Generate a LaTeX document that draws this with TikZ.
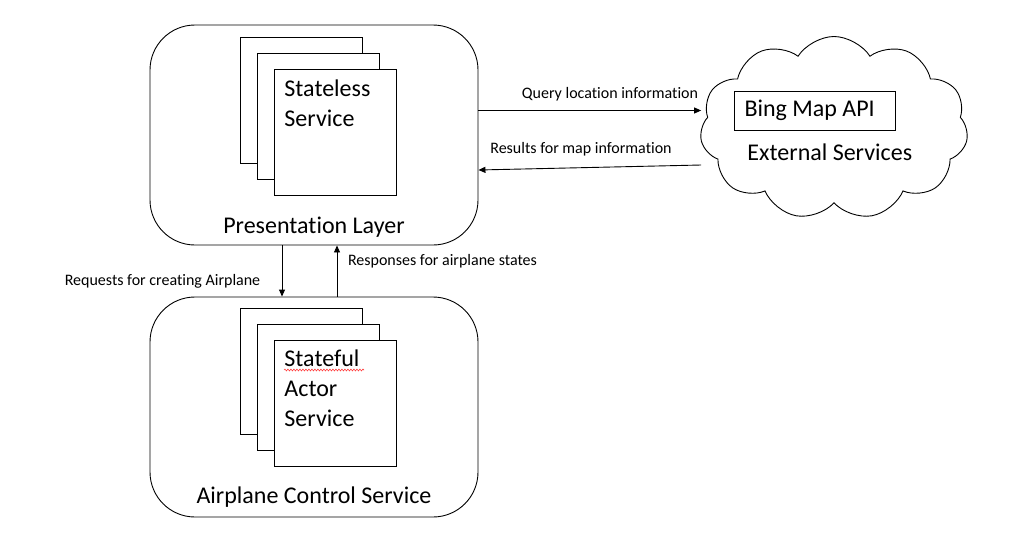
\documentclass[tikz,border=0pt]{standalone}
\usepackage{fontspec}
\setmainfont[Ligatures={NoCommon}]{Carlito}
\usetikzlibrary{arrows.meta}
\usetikzlibrary{shapes.symbols}
\usetikzlibrary{decorations.pathmorphing}

\begin{document}
\begin{tikzpicture}[x=1pt,y=-1pt,line width=0.9pt,
    layer/.style={draw,rounded corners=45pt,minimum width=328pt,minimum height=220pt,inner sep=0pt},
    page/.style={draw,fill=white,minimum width=122pt,minimum height=126pt,inner sep=0pt},
    big/.style={font=\fontsize{24}{30}\selectfont,inner sep=0pt},
    small/.style={font=\fontsize{16}{19}\selectfont,inner sep=0pt},
    arr/.style={-{Triangle[length=7pt,width=6pt]}}]
      \useasboundingbox (0,0) rectangle (1029,552);

      % presentation layer
      \node[layer] (presentation) at (314,135) {};
      \foreach \k in {0,1,2} {
        \node[page] (stateless\k) at ({301+17*\k}, {100+16*\k}) {};
      }
      \node[big,anchor=north west,align=left] (statelesstext) at (284,79) {Stateless\\Service};
      \node[big,anchor=base] (presentationtext) at (314,233) {Presentation Layer};

      % airplane control service
      \node[layer] (control) at (314,407) {};
      \foreach \k in {0,1,2} {
        \node[page] (stateful\k) at ({301+17*\k}, {371+16*\k}) {};
      }
      \node[big,anchor=north west,align=left] (statefultext) at (284,349) {Stateful\\Actor\\Service};
      \draw[red!75,line width=0.6pt,decorate,decoration={snake,amplitude=0.9pt,segment length=3pt}]
        (statefultext.north west) ++(0,21) -- ++(80,0);
      \node[big,anchor=base] (controltext) at (314,503) {Airplane Control Service};

      % external services
      \node[cloud,draw,cloud puffs=11,cloud puff arc=115,aspect=1.46,
            minimum width=268pt,minimum height=183pt,inner sep=0pt] (cloud) at (834,128) {};
      \node[draw,big,minimum width=161pt,minimum height=39pt,text width=141pt,align=flush left] (bing) at (815,110.5) {Bing Map API};
      \node[big,anchor=base west] (externaltext) at (747,160) {External Services};

      % connectors
      \draw[arr] (presentation.east |- bing.west) -- (cloud.west |- bing.west);
      \draw[arr] ([yshift=-37pt]cloud.west) -- ([yshift=-35pt]presentation.east);
      \draw[arr] ([xshift=-32pt]presentation.south) -- ([xshift=-32pt]control.north);
      \draw[arr] ([xshift=23pt]control.north) -- ([xshift=23pt]presentation.south);

      \node[small,anchor=base] (querytext) at (610,98) {Query location information};
      \node[small,anchor=base] (resultstext) at (581,153) {Results for map information};
      \node[small,anchor=base] (requeststext) at (162.5,285) {Requests for creating Airplane};
      \node[small,anchor=base] (responsestext) at (442.5,265) {Responses for airplane states};
\end{tikzpicture}
\end{document}
